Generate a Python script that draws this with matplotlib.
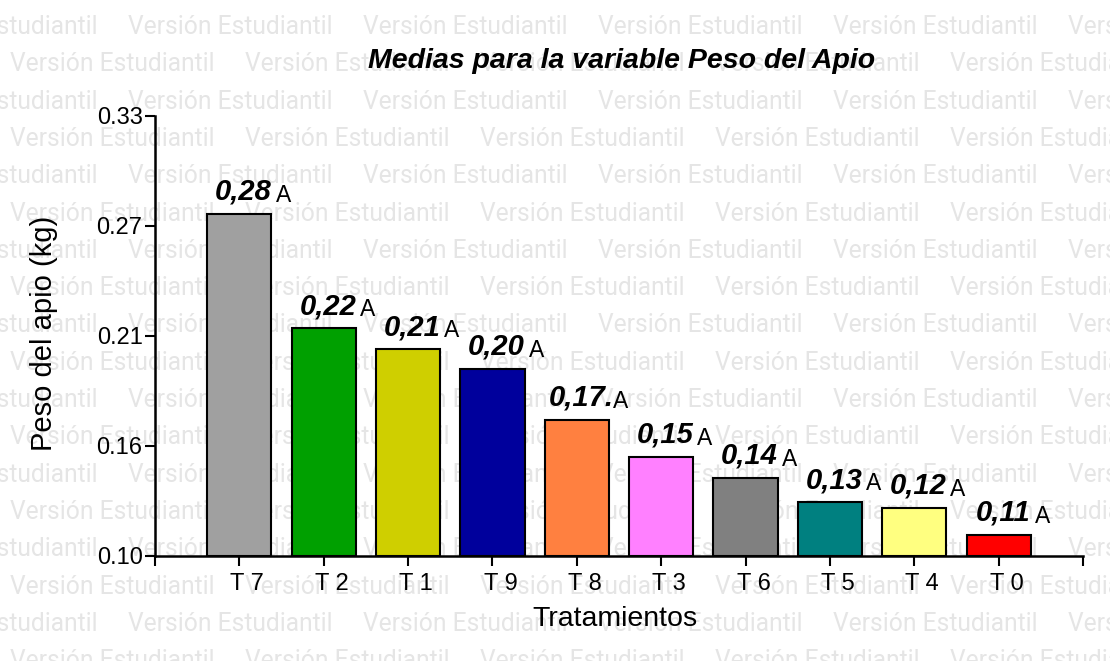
import matplotlib
matplotlib.use('Agg')
from matplotlib import pyplot as plt
from matplotlib import transforms

# Data
treatments = ['T 7', 'T 2', 'T 1', 'T 9', 'T 8', 'T 3', 'T 6', 'T 5', 'T 4', 'T 0']
weights = [0.279, 0.219, 0.208, 0.198, 0.171, 0.152, 0.141, 0.128, 0.125, 0.111]
value_labels = ['0,28', '0,22', '0,21', '0,20', '0,17.', '0,15', '0,14', '0,13', '0,12', '0,11']
groups = ['A', 'A', 'A', 'A', 'A', 'A', 'A', 'A', 'A', 'A']
bar_colors = ['#a0a0a0', '#00a000', '#cfcf00', '#00009c', '#ff8040',
              '#ff80ff', '#808080', '#008080', '#ffff80', '#ff0000']
ytick_vals = [0.10, 0.1575, 0.215, 0.2725, 0.33]
ytick_labels = ['0.10', '0.16', '0.21', '0.27', '0.33']

plt.rcParams['font.family'] = ['Liberation Sans', 'DejaVu Sans']

fig = plt.figure(figsize=(11.1, 6.61), dpi=100)
fig.patch.set_facecolor('white')

# "Versión Estudiantil" watermark behind everything, sized to ~205 px wide
wm = 'Versión Estudiantil'
renderer = fig.canvas.get_renderer()
probe = fig.text(0, 0, wm, fontsize=10, family='Roboto')
wm_size = 10 * 205 / probe.get_window_extent(renderer).width
probe.remove()
for r in range(18):
    y = 1 - (27 + 37.3 * r) / 661
    x0 = 10 if r % 2 == 1 else -107
    for k in range(6):
        fig.text((x0 + 235 * k) / 1110, y, wm, fontsize=wm_size, color='#e5e5e5',
                 family='Roboto', ha='left', va='center', zorder=-1)

ax = fig.add_axes([155 / 1110, 105 / 661, 928 / 1110, 440 / 661])
ax.patch.set_alpha(0)

x = list(range(len(treatments)))
ax.bar(x, [w - 0.10 for w in weights], bottom=0.10, width=0.76,
       color=bar_colors, edgecolor='black', linewidth=1.5, zorder=2)

for i in x:
    ax.annotate(value_labels[i], xy=(i, weights[i]), xytext=(3, 6),
                textcoords='offset points', ha='center', va='bottom',
                fontsize=21, fontweight='bold', fontstyle='italic', zorder=3)
    ax.annotate(groups[i], xy=(i, weights[i]), xytext=(26, 5),
                textcoords='offset points', ha='left', va='bottom',
                fontsize=16.5, zorder=3)

ax.set_xlim(-1, 10)
ax.set_ylim(0.10, 0.33)
ax.set_xticks(x)
ax.set_xticklabels(treatments, fontsize=17)
ax.set_xticks([-1, 10], minor=True)
ax.set_yticks(ytick_vals)
ax.set_yticklabels(ytick_labels, fontsize=17)
ax.tick_params(axis='both', which='both', direction='out', length=7, width=1.5, pad=2)
ax.tick_params(axis='x', pad=5)

# shift x tick labels slightly right as in the reference
shift = transforms.ScaledTranslation(8 / 100, 0, fig.dpi_scale_trans)
for lab in ax.get_xticklabels():
    lab.set_transform(lab.get_transform() + shift)

for s in ['top', 'right']:
    ax.spines[s].set_visible(False)
for s in ['left', 'bottom']:
    ax.spines[s].set_linewidth(1.8)

ax.set_ylabel('Peso del apio (kg)', fontsize=21)
ax.yaxis.set_label_coords((58 - 155) / 928, (661 - 333 - 105) / 440)
ax.set_xlabel('Tratamientos', fontsize=20.5)
ax.xaxis.set_label_coords((615 - 155) / 928, -(606 - 556) / 440)
fig.text(622 / 1110, 1 - 61 / 661, 'Medias para la variable Peso del Apio',
         fontsize=20.5, fontweight='bold', fontstyle='italic', ha='center', va='center')

fig.savefig('out.png', dpi=100)
